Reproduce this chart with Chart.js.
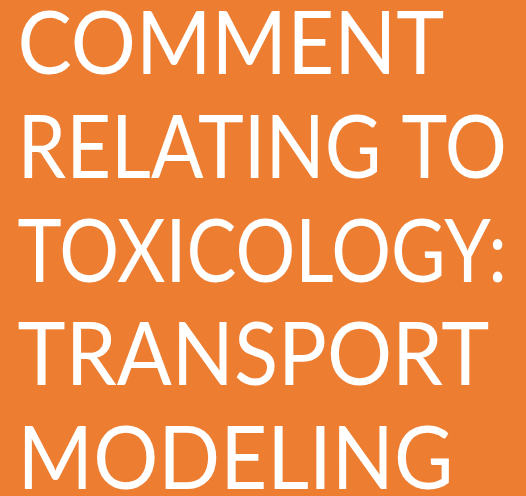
<!DOCTYPE html>
<html lang="en">
<head>
    <meta charset="UTF-8">
    <title>Comment relating to toxicology</title>
    <script src="https://cdn.jsdelivr.net/npm/chart.js"></script>
    <style>
        html, body {
            margin: 0;
            padding: 0;
            background: #ed7d31;
        }

        #wrap {
            width: 526px;
            height: 496px;
            position: relative;
        }
    </style>
</head>
<body>
    <div id="wrap"><canvas id="slide"></canvas></div>

    <script>
        // texto do slide (não há séries, só o título)
        const titleLines = ['COMMENT', 'RELATING TO', 'TOXICOLOGY:', 'TRANSPORT', 'MODELING'];
        const categories = [];
        const values = [];

        // Lato é mais larga que a Calibri original: aperta na horizontal
        const NARROW = 0.925;

        const narrowTitle = {
            id: 'narrowTitle',
            beforeDraw(chart) {
                chart.ctx.save();
                chart.ctx.scale(NARROW, 1);
            },
            afterDraw(chart) {
                chart.ctx.restore();
            }
        };

        const ctx = document.getElementById('slide');

        new Chart(ctx, {
            type: 'bar',
            data: {
                labels: categories,
                datasets: [{ data: values }]
            },
            plugins: [narrowTitle],
            options: {
                responsive: true,
                maintainAspectRatio: false,
                animation: false,
                // a largura da caixa do título limita as linhas mais longas
                layout: { padding: { left: 19, top: 0, right: -22, bottom: 0 } },
                plugins: {
                    legend: { display: false },
                    tooltip: { enabled: false },
                    title: {
                        display: true,
                        text: titleLines,
                        align: 'start',
                        color: '#ffffff',
                        font: {
                            family: 'Lato',
                            size: 88,
                            weight: 'normal',
                            lineHeight: 1.178
                        },
                        padding: { top: -6, bottom: 0 }
                    }
                },
                scales: {
                    x: { display: false },
                    y: { display: false }
                }
            }
        });
    </script>
</body>
</html>
